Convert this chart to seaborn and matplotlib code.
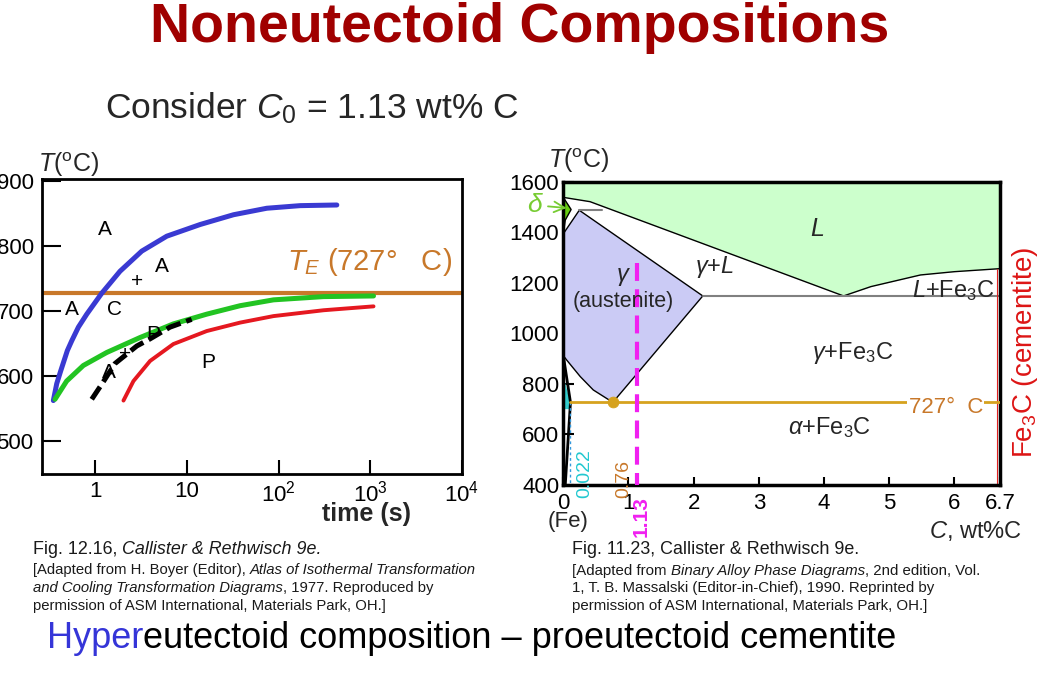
import matplotlib
matplotlib.use("Agg")
import matplotlib.pyplot as plt
from matplotlib.ticker import NullLocator
import numpy as np
import pandas as pd
import seaborn as sns

# ---------------- data ----------------
# Left: isothermal transformation diagram (time in s, T in deg C)
blue_t = [0.351, 0.382, 0.423, 0.499, 0.557, 0.658, 0.812, 1.18, 1.87, 3.23, 6.05, 14.0, 32.3, 74.5, 172, 432]
blue_T = [562, 588, 608, 639, 654, 675, 695, 727, 761, 792, 815, 833, 848, 858, 862, 863]
green_t = [0.366, 0.49, 0.745, 1.34, 3.09, 7.14, 16.5, 38.1, 88, 309, 1085]
green_T = [564, 592, 616, 636, 659, 680, 695, 708, 717, 722, 723]
red_t = [2.04, 2.62, 3.98, 7.14, 16.5, 38.1, 88, 309, 1085]
red_T = [562, 592, 623, 649, 669, 682, 692, 701, 707]
dash_t = [0.92, 1.18, 1.65, 2.85, 3.98, 6.56, 11.3]
dash_T = [564, 587, 619, 646, 657, 675, 687]
TE = 727
left_xticks = [1, 10, 100, 1000, 10000]
left_xticklabels = ['1', '10', '10$^2$', '10$^3$', '10$^4$']
left_yticks = [500, 600, 700, 800, 900]

# Right: Fe-Fe3C phase diagram (wt% C, deg C)
liq_x = [0, 0.41, 4.3, 4.72, 5.48, 6.0, 6.7]
liq_T = [1538, 1521, 1148, 1185, 1231, 1244, 1256]
delta_x = [0, 0.12, 0.03, 0]
delta_T = [1538, 1490, 1448, 1394]
gamma_x = [0, 0.245, 2.14, 0.76, 0.46, 0.26, 0.05, 0]
gamma_T = [1394, 1487, 1148, 727, 776, 829, 895, 912]
alpha_x = [0, 0.11, 0.03]
alpha_T = [912, 727, 400]
alpha_fill_x = [0, 0.11, 0.09, 0]
alpha_fill_T = [830, 727, 700, 700]
peritectic_x = [0.245, 0.6]
peritectic_T = 1490
eutectic_x = [2.14, 6.7]
eutectic_T = 1148
eutectoid_x = [0.11, 6.7]
eutectoid_T = 727
eutectoid_C = 0.76
C0 = 1.13
C0_top = 1280
fe3c_line_T = [400, 1256]
fe3c_x = 6.65
right_xticks = [0, 1, 2, 3, 4, 5, 6, 6.7]
right_xticklabels = ['0', '1', '2', '3', '4', '5', '6', '6.7']
right_yticks = [400, 600, 800, 1000, 1200, 1400, 1600]

# ---------------- style ----------------
sns.set_theme(style="white")
plt.rcParams['font.family'] = ['Liberation Sans', 'DejaVu Sans']
plt.rcParams['mathtext.fontset'] = 'custom'
plt.rcParams['mathtext.rm'] = 'Liberation Sans'
plt.rcParams['mathtext.it'] = 'Liberation Sans:italic'
plt.rcParams['mathtext.bf'] = 'Liberation Sans:bold'
plt.rcParams['axes.edgecolor'] = 'black'

W, H = 1041, 691
fig = plt.figure(figsize=(W / 100, H / 100), dpi=100)
fig.patch.set_facecolor('white')

BLUE = '#3a3ad2'
GREEN = '#22c422'
RED = '#e51820'
ORANGE = '#c8782a'
GOLD = '#d6a21e'
MAGENTA = '#f020f0'

# ---------------- left axes ----------------
ax1 = fig.add_axes([42 / W, 1 - 474 / H, 420 / W, 295 / H])
ax1.set_xscale('log')
ax1.axhline(TE, color=ORANGE, lw=3, zorder=2)
sns.lineplot(x=blue_t, y=blue_T, color=BLUE, lw=3.6, sort=False, estimator=None, ax=ax1, zorder=3)
sns.lineplot(x=green_t, y=green_T, color=GREEN, lw=3.6, sort=False, estimator=None, ax=ax1, zorder=3)
sns.lineplot(x=red_t, y=red_T, color=RED, lw=2.8, sort=False, estimator=None, ax=ax1, zorder=3)
sns.lineplot(x=dash_t, y=dash_T, color='black', lw=3.6, sort=False, estimator=None, ax=ax1,
             zorder=3, linestyle=(0, (3.0, 1.2)))
ax1.set_xlim(0.264, 1e4)
ax1.set_ylim(449, 903)
ax1.set_xticks(left_xticks)
ax1.set_xticklabels(left_xticklabels)
ax1.xaxis.set_minor_locator(NullLocator())
ax1.set_yticks(left_yticks)
ax1.tick_params(axis='y', direction='in', length=14, width=1.5, pad=6, labelsize=16, left=True, colors='black')
ax1.tick_params(axis='x', direction='in', length=10, width=1.5, pad=5, labelsize=16, bottom=True, colors='black')
ax1.set_xlabel('')
ax1.set_ylabel('')
for s in ax1.spines.values():
    s.set_linewidth(2)
    s.set_color('black')

lab_kw = dict(fontsize=15, ha='center', va='center', color='black', zorder=5)
ax1.text(1.29, 825, 'A', **lab_kw)
ax1.text(5.33, 769, 'A', **lab_kw)
ax1.text(2.85, 746, '+', **lab_kw)
ax1.text(0.557, 702, 'A', **lab_kw)
ax1.text(1.61, 702, 'C', **lab_kw)
ax1.text(1.40, 605, 'A', **lab_kw)
ax1.text(2.12, 633, '+', **lab_kw)
ax1.text(4.32, 664, 'P', **lab_kw)
ax1.text(17.2, 620, 'P', **lab_kw)
ax1.text(123, 775, r'$\mathit{T}_{\mathit{E}}$ (727°   C)', fontsize=21, color=ORANGE,
         ha='left', va='center', zorder=5)

fig.text(38 / W, 1 - 165 / H, r'$\mathit{T}$($^{\mathrm{o}}$C)', fontsize=18, ha='left', va='center')
fig.text(367 / W, 1 - 514 / H, 'time (s)', fontsize=18, fontweight='bold', ha='center', va='center')

# ---------------- right axes ----------------
ax2 = fig.add_axes([563.3 / W, 1 - 485 / H, 436.7 / W, 303.3 / H])
ax2.fill_between(liq_x, liq_T, 1600, color='#ccffcc', lw=0, zorder=1)
ax2.fill(gamma_x, gamma_T, color='#cbcbf5', lw=0, zorder=1)
ax2.fill(delta_x, delta_T, color='#66cc11', lw=0, zorder=1)
ax2.fill(alpha_fill_x, alpha_fill_T, color='#33cccc', lw=0, zorder=1)

sns.lineplot(x=liq_x, y=liq_T, color='black', lw=1.0, sort=False, estimator=None, ax=ax2, zorder=2)
sns.lineplot(x=gamma_x + [gamma_x[0]], y=gamma_T + [gamma_T[0]], color='black', lw=1.0,
             sort=False, estimator=None, ax=ax2, zorder=2)
sns.lineplot(x=delta_x, y=delta_T, color='black', lw=1.0, sort=False, estimator=None, ax=ax2, zorder=2)
sns.lineplot(x=alpha_x, y=alpha_T, color='black', lw=2.0, sort=False, estimator=None, ax=ax2, zorder=2)
sns.lineplot(x=peritectic_x, y=[peritectic_T] * 2, color='#808080', lw=1.5, ax=ax2, zorder=2)
sns.lineplot(x=eutectic_x, y=[eutectic_T] * 2, color='#808080', lw=1.5, ax=ax2, zorder=2)
sns.lineplot(x=[fe3c_x] * 2, y=fe3c_line_T, color='#e02020', lw=0.8, sort=False, estimator=None, ax=ax2, zorder=2)
sns.lineplot(x=[alpha_x[1]] * 2, y=[eutectoid_T, 400], color='#3399dd', lw=1.0, sort=False,
             estimator=None, ax=ax2, zorder=2, linestyle=(0, (2, 2)))
sns.lineplot(x=eutectoid_x, y=[eutectoid_T] * 2, color=GOLD, lw=2.0, ax=ax2, zorder=3)
sns.scatterplot(x=[eutectoid_C], y=[eutectoid_T], color=GOLD, s=60, edgecolor=GOLD, ax=ax2, zorder=4)
sns.lineplot(x=[C0, C0], y=[C0_top, 400], color=MAGENTA, lw=3.0, sort=False, estimator=None, ax=ax2,
             zorder=4, linestyle=(0, (4.3, 2.0)))

ax2.set_xlim(0, 6.7)
ax2.set_ylim(400, 1600)
ax2.set_xticks(right_xticks)
ax2.set_xticklabels(right_xticklabels)
ax2.set_yticks(right_yticks)
ax2.tick_params(axis='y', direction='in', length=8, width=1.5, pad=3, labelsize=16, left=True, colors='black')
ax2.tick_params(axis='x', direction='in', length=6, width=1.5, pad=6, labelsize=16, bottom=True, colors='black')
ax2.set_xlabel('')
ax2.set_ylabel('')
for s in ax2.spines.values():
    s.set_linewidth(2.5)
    s.set_color('black')

ax2.text(3.9, 1412, r'$\mathit{L}$', fontsize=18, ha='center', va='center', zorder=5)
ax2.text(2.32, 1263, r'$\gamma$+$\mathit{L}$', fontsize=17, ha='center', va='center', zorder=5)
ax2.text(0.92, 1222, r'$\gamma$', fontsize=17, ha='center', va='center', zorder=5)
ax2.text(0.92, 1127, '(austenite)', fontsize=15.5, ha='center', va='center', zorder=5)
ax2.text(6.62, 1171, r'$\mathit{L}$+Fe$_3$C', fontsize=17, ha='right', va='center', zorder=5)
ax2.text(4.44, 924, r'$\gamma$+Fe$_3$C', fontsize=17, ha='center', va='center', zorder=5)
ax2.text(4.09, 627, r'$\alpha$+Fe$_3$C', fontsize=17, ha='center', va='center', zorder=5)
ax2.text(5.87, 708, '727°  C', fontsize=16, color=ORANGE, ha='center', va='center', zorder=5,
         bbox=dict(facecolor='white', edgecolor='none', pad=1))
ax2.text(0.33, 445, '0.022', fontsize=14, color='#22c8d0', rotation=90, ha='center', va='center',
         zorder=5, clip_on=False)
ax2.text(0.92, 425, '0.76', fontsize=14, color=ORANGE, rotation=90, ha='center', va='center',
         zorder=5, clip_on=False)
ax2.text(1.2, 275, '1.13', fontsize=15, fontweight='bold', color=MAGENTA, rotation=90,
         ha='center', va='center', zorder=5, clip_on=False)
ax2.annotate('δ', xy=(0.05, 1496), xytext=(-0.44, 1507), fontsize=19, style='italic',
             color='#77cc33', ha='center', va='center', annotation_clip=False,
             arrowprops=dict(arrowstyle='->', color='#77cc33', lw=1.3, shrinkA=2, shrinkB=0))

fig.text(548 / W, 1 - 161 / H, r'$\mathit{T}$($^{\mathrm{o}}$C)', fontsize=18, ha='left', va='center')
fig.text(568 / W, 1 - 521 / H, '(Fe)', fontsize=16, ha='center', va='center')
fig.text(1022 / W, 1 - 531 / H, r'$\mathit{C}$, wt%C', fontsize=17, ha='right', va='center')
fig.text(1025 / W, 1 - 352 / H, r'Fe$_3$C (cementite)', fontsize=20, color='#dd1515',
         rotation=90, ha='center', va='center')

# ---------------- slide texts ----------------
fig.text(520 / W, 1 - 28 / H, 'Noneutectoid Compositions', fontsize=40, fontweight='bold',
         color='#a00000', ha='center', va='center')
fig.text(105 / W, 1 - 108 / H, r'Consider $\mathit{C}_{\mathrm{0}}$ = 1.13 wt% C', fontsize=25.5,
         ha='left', va='center')

renderer = fig.canvas.get_renderer()


def rich(x_px, y_px, parts, size):
    x = x_px / W
    for txt, style, color in parts:
        t = fig.text(x, 1 - y_px / H, txt, fontsize=size, style=style, color=color,
                     ha='left', va='center')
        bb = t.get_window_extent(renderer=renderer)
        x += bb.width / W


CAP = '#1a1a1a'
rich(33, 549, [('Fig. 12.16, ', 'normal', CAP), ('Callister & Rethwisch 9e.', 'italic', CAP)], 12.9)
rich(33, 570, [('[Adapted from H. Boyer (Editor), ', 'normal', CAP),
               ('Atlas of Isothermal Transformation', 'italic', CAP)], 10.7)
rich(33, 588, [('and Cooling Transformation Diagrams', 'italic', CAP),
               (', 1977. Reproduced by', 'normal', CAP)], 10.7)
rich(33, 606, [('permission of ASM International, Materials Park, OH.]', 'normal', CAP)], 10.7)

rich(572, 550, [('Fig. 11.23, Callister & Rethwisch 9e.', 'normal', CAP)], 12.9)
rich(572, 571, [('[Adapted from ', 'normal', CAP), ('Binary Alloy Phase Diagrams', 'italic', CAP),
                (', 2nd edition, Vol.', 'normal', CAP)], 10.8)
rich(572, 588, [('1, T. B. Massalski (Editor-in-Chief), 1990. Reprinted by', 'normal', CAP)], 10.8)
rich(572, 606, [('permission of ASM International, Materials Park, OH.]', 'normal', CAP)], 10.8)

rich(47, 638, [('Hyper', 'normal', '#3535d8'),
               ('eutectoid composition – proeutectoid cementite', 'normal', 'black')], 26)

fig.savefig('out.png', dpi=100, facecolor='white')
